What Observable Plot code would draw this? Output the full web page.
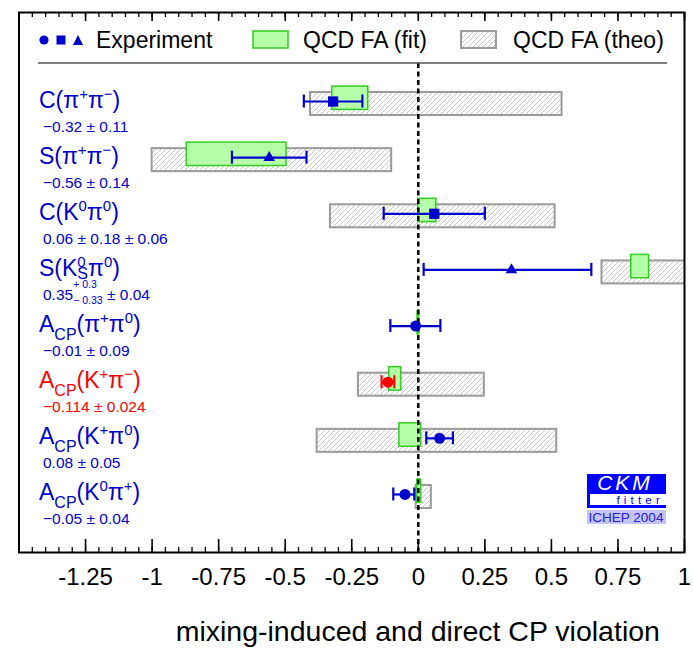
<!DOCTYPE html>
<html><head><meta charset="utf-8">
<script src="https://cdn.jsdelivr.net/npm/d3@7"></script>
<script src="https://cdn.jsdelivr.net/npm/@observablehq/plot@0.6"></script>
<style>html,body{margin:0;padding:0;background:#fff} svg{display:block}</style>
</head><body><div id="chart"></div>
<script>
// ---------- data ----------
const observables = [
  "C(π^{+}π^{−})", "S(π^{+}π^{−})", "C(K^{0}π^{0})", "S(K^{0}_{S}π^{0})",
  "A_{CP}(π^{+}π^{0})", "A_{CP}(K^{+}π^{−})", "A_{CP}(K^{+}π^{0})", "A_{CP}(K^{0}π^{+})"
];
const resultTexts = [
  "−0.32 ± 0.11", "−0.56 ± 0.14", "0.06 ± 0.18 ± 0.06", "0.35^{+ 0.3}_{− 0.33} ± 0.04",
  "−0.01 ± 0.09", "−0.114 ± 0.024", "0.08 ± 0.05", "−0.05 ± 0.04"
];
const expCentral = [-0.32, -0.56, 0.06, 0.35, -0.01, -0.114, 0.08, -0.05];
const expLow     = [-0.43, -0.70, -0.13, 0.02, -0.105, -0.138, 0.03, -0.094];
const expHigh    = [-0.21, -0.42, 0.25, 0.65, 0.083, -0.090, 0.13, -0.015];
const expMarker  = ["square", "triangle", "square", "triangle", "circle", "circle", "circle", "circle"];
const fitLow     = [-0.323, -0.87, 0.0, 0.80, -0.003, -0.109, -0.071, -0.004];
const fitHigh    = [-0.188, -0.495, 0.068, 0.867, 0.003, -0.064, 0.011, 0.011];
const theoLow    = [-0.405, -1.0, -0.33, 0.69, NaN, -0.225, -0.38, -0.008];
const theoHigh   = [0.54, -0.10, 0.514, 1.10, NaN, 0.248, 0.52, 0.049];
const highlightRow = 5; // A_CP(K+π−) drawn in red
const xTicksMajor = [-1.5, -1.25, -1, -0.75, -0.5, -0.25, 0, 0.25, 0.5, 0.75, 1];
const xTickLabels = ["-1.25", "-1", "-0.75", "-0.5", "-0.25", "0", "0.25", "0.5", "0.75", "1"];
const legendLabels = ["Experiment", "QCD FA (fit)", "QCD FA (theo)"];
const axisTitle = "mixing-induced and direct CP violation";
const logoTexts = ["CKM", "fitter", "ICHEP 2004"];

// ---------- styling ----------
const FONT = "'Liberation Sans', Arial, Helvetica, sans-serif";
const BLUE = "#0000cc", RED = "#ff0000";
const FIT_FILL = "#b4ffa8", FIT_STROKE = "#33cc22";
const THEO_STROKE = "#9a9a9a";
const W = 693, H = 650;
const M = {top: 12, right: 9, bottom: 98, left: 18.5};
const ROW_PX = 56.14;            // pixel spacing between rows
const FIRST_ROW_PX = 101;        // pixel centre of first row
const yTop = -(FIRST_ROW_PX - M.top) / ROW_PX;
const yBottom = (H - M.bottom - FIRST_ROW_PX) / ROW_PX;
const px = p => p / ROW_PX;      // pixel length -> row units

const rows = observables.map((label, i) => ({
  i, label, result: resultTexts[i],
  c: expCentral[i], lo: expLow[i], hi: expHigh[i], marker: expMarker[i],
  fitLo: fitLow[i], fitHi: fitHigh[i], theoLo: theoLow[i], theoHi: theoHigh[i],
  color: i === highlightRow ? RED : BLUE
}));

// ---------- rich text (super/subscripts) ----------
const mctx = document.createElement("canvas").getContext("2d");
function measure(t, size, style = "") { mctx.font = `${style} ${size}px ${FONT}`; return mctx.measureText(t).width; }
function parseRich(s) {
  const out = []; let k = 0;
  const isScript = j => (s[j] === "^" || s[j] === "_") && s[j + 1] === "{";
  while (k < s.length) {
    if (isScript(k)) {
      const end = s.indexOf("}", k);
      out.push({type: s[k] === "^" ? "sup" : "sub", text: s.slice(k + 2, end)});
      k = end + 1;
    } else {
      let j = k; while (j < s.length && !isScript(j)) j++;
      out.push({type: "n", text: s.slice(k, j)}); k = j;
    }
  }
  return out;
}
function drawRich(g, s, x, y, o) {
  const parts = parseRich(s);
  const text = g.append("text").attr("fill", o.fill).attr("font-family", FONT).attr("text-anchor", "start");
  let cx = x, scriptStart = x, prevType = "n", prevW = 0;
  parts.forEach((p, k) => {
    const size = p.type === "n" ? o.size : p.type === "sup" ? o.supSize : o.subSize;
    const stacked = p.type !== "n" && prevType !== "n" && prevType !== p.type;
    const stackedAny = stacked || (p.type !== "n" && parts[k + 1] && parts[k + 1].type !== "n" && parts[k + 1].type !== p.type);
    let dy = 0;
    if (p.type === "sup") dy = -o.supDy;
    if (p.type === "sub") dy = stackedAny ? o.subDyStacked : o.subDy;
    let xx = cx;
    if (stacked) xx = scriptStart; else if (p.type !== "n") scriptStart = cx;
    const w = measure(p.text, size);
    text.append("tspan").attr("x", xx).attr("y", y + dy).attr("font-size", size).text(p.text);
    cx = stacked ? scriptStart + Math.max(prevW, w) : xx + w;
    prevType = p.type; prevW = w;
  });
}

// ---------- custom marks ----------
function labelsMark(index, scales) {
  const g = d3.create("svg:g").attr("text-anchor", "start");
  rows.forEach(r => {
    const yc = scales.y(r.i);
    drawRich(g, r.label, 39, yc + 6.5, {fill: r.color, size: 23, supSize: 15, subSize: 16, supDy: 9, subDy: 8, subDyStacked: 3});
    drawRich(g, r.result, 43, yc + 30.5, {fill: r.color, size: 15.5, supSize: 10.5, subSize: 10.5, supDy: 11.5, subDy: 4, subDyStacked: 4});
  });
  return g.node();
}
function legendMark() {
  const g = d3.create("svg:g").attr("font-family", FONT).attr("text-anchor", "start");
  g.append("circle").attr("cx", 44).attr("cy", 40).attr("r", 4.6).attr("fill", BLUE);
  g.append("rect").attr("x", 56.5).attr("y", 35.5).attr("width", 9).attr("height", 9).attr("fill", BLUE);
  g.append("path").attr("d", "M78,35 L83,45 L73,45 Z").attr("fill", BLUE);
  g.append("text").attr("x", 96).attr("y", 48).attr("font-size", 23).text(legendLabels[0]);
  g.append("rect").attr("x", 253).attr("y", 31).attr("width", 35).attr("height", 17)
    .attr("fill", FIT_FILL).attr("stroke", FIT_STROKE).attr("stroke-width", 1.5);
  g.append("text").attr("x", 303).attr("y", 48).attr("font-size", 23).text(legendLabels[1]);
  g.append("rect").attr("x", 461).attr("y", 31).attr("width", 35).attr("height", 17)
    .attr("fill", "url(#hatch)").attr("stroke", THEO_STROKE).attr("stroke-width", 2);
  g.append("text").attr("x", 513).attr("y", 48).attr("font-size", 23).text(legendLabels[2]);
  g.append("line").attr("x1", 38).attr("x2", 667).attr("y1", 63).attr("y2", 63)
    .attr("stroke", "#555").attr("stroke-width", 1.5);
  return g.node();
}
function logoMark() {
  const g = d3.create("svg:g").attr("font-family", FONT);
  g.append("rect").attr("x", 587).attr("y", 474).attr("width", 79).attr("height", 34).attr("fill", "#0000ff");
  g.append("rect").attr("x", 590).attr("y", 494).attr("width", 76).attr("height", 11).attr("fill", "#fff");
  g.append("text").attr("x", 625).attr("y", 490).attr("font-size", 21).attr("font-style", "italic")
    .attr("letter-spacing", 3).attr("text-anchor", "middle").attr("fill", "#fff").text(logoTexts[0]);
  g.append("text").attr("x", 664).attr("y", 504).attr("font-size", 11.5)
    .attr("letter-spacing", 4.2).attr("text-anchor", "end").attr("fill", "#0000ff").text(logoTexts[1]);
  g.append("rect").attr("x", 587).attr("y", 510).attr("width", 79).attr("height", 14).attr("fill", "#c4c4f6");
  g.append("text").attr("x", 626).attr("y", 522).attr("font-size", 13.5).attr("text-anchor", "middle")
    .attr("fill", "#2020d8").text(logoTexts[2]);
  return g.node();
}
function titleMark(index, scales) {
  const g = d3.create("svg:g");
  g.append("text").attr("x", scales.x(0)).attr("y", 641).attr("text-anchor", "middle")
    .attr("font-family", FONT).attr("font-size", 28.5).attr("fill", "#000").text(axisTitle);
  return g.node();
}

const minorTicks = d3.range(-30, 21).map(k => k / 20);
const frameH = H - M.top - M.bottom;

const plot = Plot.plot({
  width: W, height: H,
  marginTop: M.top, marginRight: M.right, marginBottom: M.bottom, marginLeft: M.left,
  style: {fontFamily: FONT, background: "#fff", overflow: "visible"},
  x: {domain: [-1.5, 1]},
  y: {domain: [yBottom, yTop], axis: null},
  color: {type: "identity"},
  marks: [
    // theory (hatched)
    Plot.rect(rows.filter(r => !isNaN(r.theoLo)), {
      x1: "theoLo", x2: "theoHi",
      y1: r => r.i + px(2.5) - px(11.5), y2: r => r.i + px(2.5) + px(11.5),
      fill: "url(#hatch)", stroke: THEO_STROKE, strokeWidth: 2, clip: true
    }),
    // fit (green)
    Plot.rect(rows, {
      x1: "fitLo", x2: "fitHi",
      y1: r => r.i - px(3.3) - px(11.7), y2: r => r.i - px(3.3) + px(11.7),
      fill: FIT_FILL, stroke: FIT_STROKE, strokeWidth: 1.5, clip: true
    }),
    // zero line
    Plot.ruleX([0], {stroke: "#000", strokeWidth: 2.5, strokeDasharray: "5,3.5", insetTop: 63 - M.top}),
    // experiment error bars
    Plot.ruleY(rows, {y: "i", x1: "lo", x2: "hi", stroke: "color", strokeWidth: 2.2}),
    Plot.ruleX(rows, {x: "lo", y1: r => r.i - px(6.5), y2: r => r.i + px(6.5), stroke: "color", strokeWidth: 2.2}),
    Plot.ruleX(rows, {x: "hi", y1: r => r.i - px(6.5), y2: r => r.i + px(6.5), stroke: "color", strokeWidth: 2.2}),
    // experiment markers
    Plot.dot(rows.filter(r => r.marker === "circle"), {x: "c", y: "i", r: 5.5, fill: "color", symbol: "circle"}),
    Plot.dot(rows.filter(r => r.marker === "square"), {x: "c", y: "i", r: 5.8, fill: "color", symbol: "square"}),
    Plot.dot(rows.filter(r => r.marker === "triangle"), {x: "c", y: "i", r: 4.3, fill: "color", symbol: "triangle"}),
    // ticks (inward)
    Plot.ruleX(minorTicks, {x: d => d, insetTop: frameH - 5, strokeWidth: 1.3}),
    Plot.ruleX(minorTicks, {x: d => d, insetBottom: frameH - 5, strokeWidth: 1.3}),
    Plot.ruleX(xTicksMajor, {x: d => d, insetTop: frameH - 13, strokeWidth: 1.6}),
    Plot.ruleX(xTicksMajor, {x: d => d, insetBottom: frameH - 9, strokeWidth: 1.6}),
    Plot.axisX(xTicksMajor.slice(1), {anchor: "bottom", tickSize: 0, tickPadding: 15, fontSize: 24,
      tickFormat: (d, k) => xTickLabels[k], label: null, fill: "#000"}),
    Plot.frame({stroke: "#000", strokeWidth: 2}),
    labelsMark, legendMark, logoMark, titleMark
  ]
});

// hatch pattern definition
const defs = d3.select(plot).insert("defs", ":first-child");
const pat = defs.append("pattern").attr("id", "hatch").attr("patternUnits", "userSpaceOnUse")
  .attr("width", 5).attr("height", 5);
pat.append("rect").attr("width", 5).attr("height", 5).attr("fill", "#fff");
pat.append("path").attr("d", "M-1,1 L1,-1 M0,5 L5,0 M4,6 L6,4").attr("stroke", "#c8c8c8").attr("stroke-width", 1);

document.getElementById("chart").appendChild(plot);
</script>
</body></html>
